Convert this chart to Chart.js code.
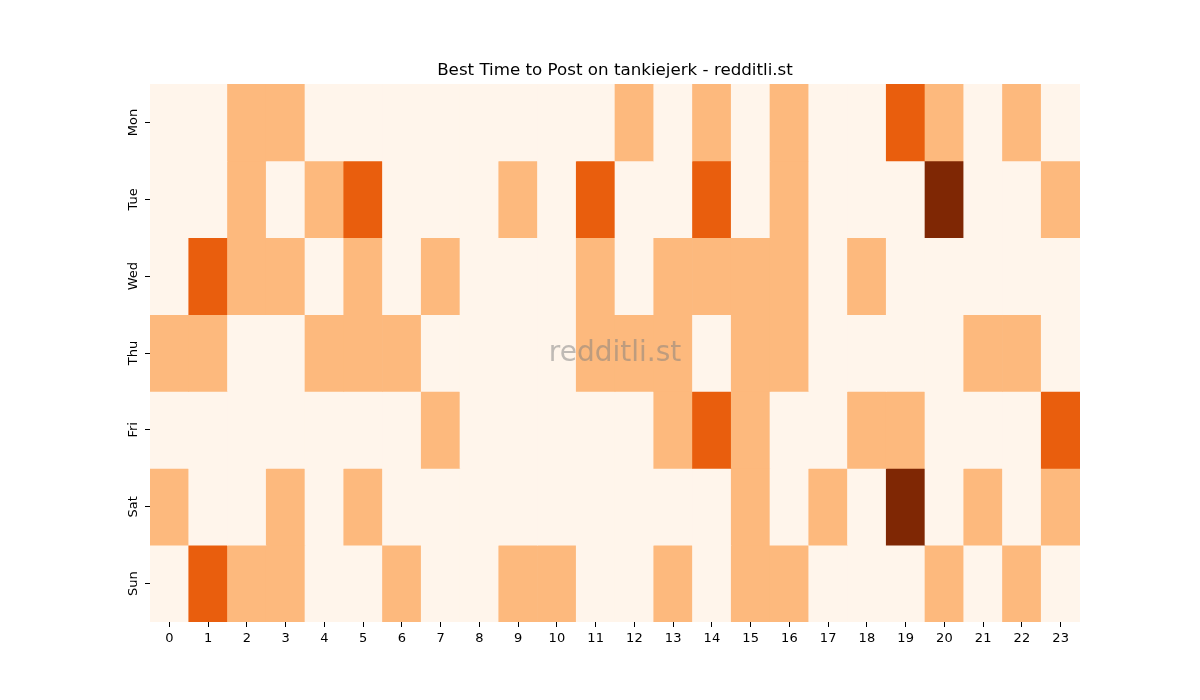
<!DOCTYPE html>
<html>
<head>
<meta charset="utf-8">
<script src="https://cdn.jsdelivr.net/npm/chart.js@4"></script>
<style>
  body { margin: 0; background: #fff; }
  #wrap { width: 1200px; height: 700px; }
</style>
</head>
<body>
<div id="wrap"><canvas id="heatmap" width="1200" height="700"></canvas></div>
<script>
const hours = ['0','1','2','3','4','5','6','7','8','9','10','11','12','13','14','15','16','17','18','19','20','21','22','23'];
const days = ['Mon', 'Tue', 'Wed', 'Thu', 'Fri', 'Sat', 'Sun'];

const mon = [0,0,1,1,0,0,0,0,0,0,0,0,1,0,1,0,1,0,0,2,1,0,1,0];
const tue = [0,0,1,0,1,2,0,0,0,1,0,2,0,0,2,0,1,0,0,0,3,0,0,1];
const wed = [0,2,1,1,0,1,0,1,0,0,0,1,0,1,1,1,1,0,1,0,0,0,0,0];
const thu = [1,1,0,0,1,1,1,0,0,0,0,1,1,1,0,1,1,0,0,0,0,1,1,0];
const fri = [0,0,0,0,0,0,0,1,0,0,0,0,0,1,2,1,0,0,1,1,0,0,0,2];
const sat = [1,0,0,1,0,1,0,0,0,0,0,0,0,0,0,1,0,1,0,3,0,1,0,1];
const sun = [0,2,1,1,0,0,1,0,0,1,1,0,0,1,0,1,1,0,0,0,1,0,1,0];

const rows = [mon, tue, wed, thu, fri, sat, sun];
const palette = ['#fff5eb', '#fdb97d', '#e95e0d', '#7f2704'];

// each day is a dataset of floating bars spanning [row, row + 1]
const datasets = rows.map((row, r) => ({
    label: days[r],
    data: row.map(() => [r, r + 1]),
    backgroundColor: row.map(v => palette[v]),
    borderWidth: 0,
    barPercentage: 1,
    categoryPercentage: 1,
    grouped: false
}));

const watermark = {
    id: 'watermark',
    afterLayout(chart) {
        // center the title over the plot area, like matplotlib does
        if (chart.titleBlock) {
            chart.titleBlock.left = chart.chartArea.left;
            chart.titleBlock.right = chart.chartArea.right;
        }
    },
    afterDraw(chart) {
        const { ctx, chartArea } = chart;
        ctx.save();
        ctx.font = '28px "DejaVu Sans"';
        ctx.fillStyle = 'rgba(128, 128, 128, 0.5)';
        ctx.textAlign = 'center';
        ctx.textBaseline = 'middle';
        ctx.fillText('redditli.st', (chartArea.left + chartArea.right) / 2, (chartArea.top + chartArea.bottom) / 2 + 1);
        ctx.restore();
    }
};

new Chart(document.getElementById('heatmap').getContext('2d'), {
    type: 'bar',
    data: { labels: hours, datasets: datasets },
    plugins: [watermark],
    options: {
        responsive: false,
        animation: false,
        layout: { padding: { top: 61, right: 120, bottom: 46, left: 0 } },
        plugins: {
            legend: { display: false },
            tooltip: { enabled: false },
            title: {
                display: true,
                text: 'Best Time to Post on tankiejerk - redditli.st',
                color: '#000',
                font: { family: 'DejaVu Sans', size: 16.7, weight: 'normal' },
                padding: { top: 0, bottom: 3 }
            }
        },
        scales: {
            x: {
                offset: true,
                border: { display: false },
                grid: { offset: false, drawOnChartArea: false, tickLength: 5, color: '#000', tickWidth: 1 },
                ticks: { color: '#000', padding: 4, font: { family: 'DejaVu Sans', size: 13 }, maxRotation: 0, autoSkip: false },
                afterFit(scale) { scale.height = 32; }
            },
            y: {
                type: 'linear',
                min: 0,
                max: 7,
                reverse: true,
                border: { display: false },
                grid: { drawOnChartArea: false, tickLength: 5, color: '#000', tickWidth: 1 },
                afterBuildTicks(scale) {
                    scale.ticks = days.map((d, i) => ({ value: i + 0.5 }));
                },
                ticks: {
                    color: '#000',
                    padding: -3,
                    crossAlign: 'center',
                    minRotation: 90,
                    maxRotation: 90,
                    font: { family: 'DejaVu Sans', size: 13 },
                    callback: (value) => days[Math.floor(value)]
                },
                afterFit(scale) { scale.width = 150; }
            }
        }
    }
});
</script>
</body>
</html>
